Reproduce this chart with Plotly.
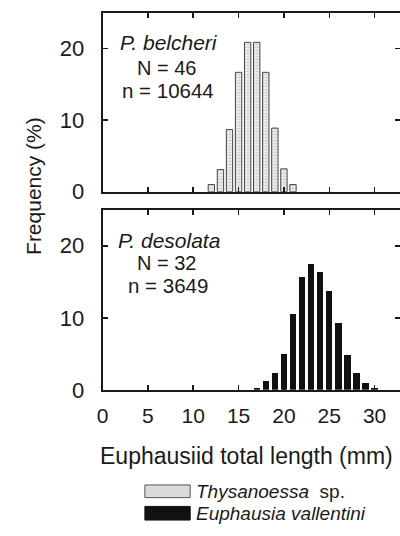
import plotly.graph_objects as go

# ---- data ----
length_belcheri = [12, 13, 14, 15, 16, 17, 18, 19, 20, 21]
freq_belcheri = [1.0, 3.1, 8.7, 16.7, 20.9, 20.9, 16.7, 8.9, 3.2, 1.0]

length_desolata = [17, 18, 19, 20, 21, 22, 23, 24, 25, 26, 27, 28, 29, 30]
freq_desolata = [0.3, 1.2, 2.3, 5.0, 10.5, 15.7, 17.5, 16.4, 13.7, 9.3, 4.9, 2.3, 0.9, 0.2]

x_ticks = [0, 5, 10, 15, 20, 25, 30]
y_ticks = [0, 10, 20]

W, H = 400, 536
FONT = "Liberation Sans, Arial, Helvetica, sans-serif"
INK = "#1a1a1a"


def px(x):
    return x / W


def py(y):
    return 1 - y / H


fig = go.Figure()

fig.add_trace(go.Bar(
    x=length_belcheri, y=freq_belcheri, xaxis="x", yaxis="y",
    width=0.7, name="Thysanoessa sp.",
    marker=dict(color="#e4e4e4",
                line=dict(color="#444444", width=1),
                pattern=dict(shape=".", fgcolor="#8a8a8a", bgcolor="#f2f2f2",
                             size=3, solidity=0.35)),
    showlegend=False, hoverinfo="skip",
))
fig.add_trace(go.Bar(
    x=length_desolata, y=freq_desolata, xaxis="x2", yaxis="y2",
    width=0.7, name="Euphausia vallentini",
    marker=dict(color="#111111", line=dict(width=0)),
    showlegend=False, hoverinfo="skip",
))
# empty traces to host the right-side tick axes
fig.add_trace(go.Scatter(x=[], y=[], xaxis="x", yaxis="y3", showlegend=False))
fig.add_trace(go.Scatter(x=[], y=[], xaxis="x2", yaxis="y4", showlegend=False))

xdom = [px(98), 1.0]
ydom_top = [py(196.5), py(13.3)]
ydom_bot = [py(399.5), py(215)]

xcommon = dict(range=[0, 32.8], tickvals=x_ticks, ticks="inside", ticklen=5,
               tickwidth=1.5, tickcolor=INK, showline=True, linewidth=2,
               linecolor=INK, mirror="ticks", showgrid=False, zeroline=False,
               domain=xdom, fixedrange=True)
ycommon = dict(range=[0, 25], tickvals=y_ticks, ticks="inside", ticklen=5,
               tickwidth=1.5, tickcolor=INK, showline=True, linewidth=2,
               linecolor=INK, showgrid=False, zeroline=False, fixedrange=True,
               tickfont=dict(size=22, color=INK, family=FONT),
               ticklabelstandoff=12)
yright = dict(range=[0, 25], tickvals=y_ticks, ticks="inside", ticklen=5,
              tickwidth=1.5, tickcolor=INK, showline=False,
              showticklabels=False, showgrid=False, zeroline=False,
              side="right", fixedrange=True)

fig.update_layout(
    width=W, height=H,
    margin=dict(l=0, r=0, t=0, b=0),
    paper_bgcolor="white", plot_bgcolor="white",
    font=dict(family=FONT, color=INK),
    bargap=0,
    xaxis=dict(**xcommon, anchor="y", showticklabels=False),
    yaxis=dict(**ycommon, domain=ydom_top, anchor="x"),
    xaxis2=dict(**xcommon, anchor="y2", showticklabels=True,
                tickfont=dict(size=21, color=INK, family=FONT),
                ticklabelstandoff=6),
    yaxis2=dict(**ycommon, domain=ydom_bot, anchor="x2"),
    yaxis3=dict(**yright, overlaying="y", anchor="x"),
    yaxis4=dict(**yright, overlaying="y2", anchor="x2"),
)

ann = []


def text(x, y, s, size=20, xanchor="center", angle=0):
    ann.append(dict(x=px(x), y=py(y), xref="paper", yref="paper", text=s,
                    showarrow=False, xanchor=xanchor, yanchor="middle",
                    textangle=angle,
                    font=dict(size=size, color=INK, family=FONT)))


# panel labels
text(165, 44, "<i>P. belcheri</i>", 21)
text(163, 70, "N = 46", 20)
text(164, 93, "n = 10644", 20.5)
text(165, 246, "<i>P. desolata</i>", 21)
text(163, 270, "N = 32", 20)
text(164, 293, "n = 3649", 20.5)

# axis titles
text(28, 191, "Frequency (%)", 21, angle=-90)
text(244, 467, "Euphausiid total length (mm)", 23)

# legend
text(191, 504, "<i>Thysanoessa</i>  sp.", 19, xanchor="left")
text(191, 526, "<i>Euphausia vallentini</i>", 19, xanchor="left")

fig.update_layout(annotations=ann)

fig.add_shape(type="rect", xref="paper", yref="paper",
              x0=px(141), x1=px(187), y0=py(510), y1=py(497),
              fillcolor="#dadada", line=dict(color="#555555", width=1))
fig.add_shape(type="rect", xref="paper", yref="paper",
              x0=px(141), x1=px(187), y0=py(533), y1=py(519),
              fillcolor="#111111", line=dict(color="#111111", width=1))

fig.write_html(
    "out.html",
    config={"displayModeBar": False, "staticPlot": True},
    post_script="document.body.style.margin='0';document.body.style.overflow='hidden';",
)
